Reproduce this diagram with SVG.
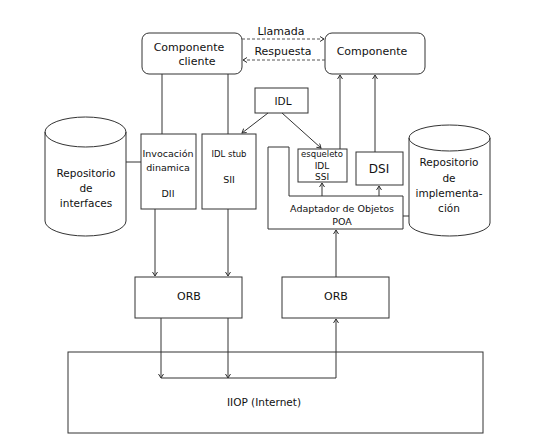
<svg xmlns="http://www.w3.org/2000/svg" width="552" height="445" viewBox="0 0 552 445">
<defs>
<marker id="arr" markerUnits="userSpaceOnUse" markerWidth="8" markerHeight="8" refX="5" refY="3" orient="auto">
<path d="M1,0.5 L5,3 L1,5.5" fill="none" stroke="#333" stroke-width="1"/>
</marker>
<style>
.b{fill:#fff;stroke:#333;stroke-width:1}
.l{fill:none;stroke:#333;stroke-width:1}
.d{fill:none;stroke:#555;stroke-width:1;stroke-dasharray:3,2}
text{font-family:"DejaVu Sans",sans-serif;fill:#111;text-anchor:middle}
.t11{font-size:11px}
.t10{font-size:10.5px}
.t9{font-size:9.5px}
.t8{font-size:9px}
</style>
</defs>
<rect width="552" height="445" fill="#fff"/>
<g id="iiop">
<rect class="b" x="68" y="352" width="415" height="81"/>
<text class="t10" x="264" y="406">IIOP (Internet)</text>
</g>
<g id="comp-cliente">
<rect class="b" x="142" y="33" width="100" height="41" rx="7"/>
<text class="t11" x="189" y="51">Componente</text>
<text class="t11" x="197" y="65">cliente</text>
</g>
<g id="componente">
<rect class="b" x="325" y="33" width="100" height="41" rx="7"/>
<text class="t11" x="372" y="55">Componente</text>
</g>
<g id="idl">
<rect class="b" x="255" y="88" width="53" height="25"/>
<text class="t10" x="283" y="105">IDL</text>
</g>
<g id="repo-interfaces">
<path class="b" d="M45,132 A40.5,15 0 0 1 126,132 L126,221 A40.5,15 0 0 1 45,221 Z"/>
<path class="l" d="M45,132 A40.5,15 0 0 0 126,132"/>
<text class="t10" x="86" y="177">Repositorio</text>
<text class="t10" x="86" y="192">de</text>
<text class="t10" x="86" y="207">interfaces</text>
</g>
<g id="dii">
<rect class="b" x="141" y="134" width="55" height="75"/>
<text class="t9" x="168" y="157">Invocación</text>
<text class="t9" x="168" y="171">dinamica</text>
<text class="t9" x="168" y="197">DII</text>
</g>
<g id="sii">
<rect class="b" x="202" y="134" width="54" height="75"/>
<text class="t9" x="229" y="157" style="font-size:8.5px">IDL stub</text>
<text class="t9" x="229" y="183">SII</text>
</g>
<g id="poa">
<path class="b" d="M268,147 L289,147 L289,196 L403,196 L403,229 L268,229 Z"/>
<text class="t9" x="342" y="212">Adaptador de Objetos</text>
<text class="t9" x="342" y="225">POA</text>
</g>
<g id="esqueleto">
<rect class="b" x="298" y="149" width="49" height="33"/>
<text class="t8" x="322" y="157" style="font-size:8.5px">esqueleto</text>
<text class="t8" x="322" y="169">IDL</text>
<text class="t8" x="322" y="180">SSI</text>
</g>
<g id="dsi">
<rect class="b" x="356" y="152" width="47" height="33"/>
<text x="379" y="173" style="font-size:12px">DSI</text>
</g>
<g id="repo-impl">
<path class="b" d="M409,138 A40.5,13 0 0 1 490,138 L490,223 A40.5,13 0 0 1 409,223 Z"/>
<path class="l" d="M409,138 A40.5,13 0 0 0 490,138"/>
<text class="t10" x="449" y="166">Repositorio</text>
<text class="t10" x="449" y="182">de</text>
<text class="t10" x="449" y="197">implementa-</text>
<text class="t10" x="449" y="212">ción</text>
</g>
<g id="orb-cliente">
<rect class="b" x="135" y="277" width="107" height="41"/>
<text class="t11" x="189" y="300">ORB</text>
</g>
<g id="orb-servidor">
<rect class="b" x="282" y="277" width="107" height="41"/>
<text class="t11" x="336" y="300">ORB</text>
</g>
<g id="connectors">
<line class="d" x1="242" y1="39" x2="324" y2="39" marker-end="url(#arr)"/>
<line class="d" x1="325" y1="60" x2="243" y2="60" marker-end="url(#arr)"/>
<text class="t11" x="281" y="35">Llamada</text>
<text class="t11" x="283" y="55">Respuesta</text>
<line class="l" x1="162" y1="74" x2="162" y2="134"/>
<line class="l" x1="228" y1="74" x2="228" y2="134"/>
<line class="l" x1="268" y1="113" x2="242" y2="133" marker-end="url(#arr)"/>
<line class="l" x1="282" y1="113" x2="321" y2="148" marker-end="url(#arr)"/>
<line class="l" x1="340" y1="149" x2="340" y2="75" marker-end="url(#arr)"/>
<line class="l" x1="375" y1="152" x2="375" y2="75" marker-end="url(#arr)"/>
<line class="l" x1="322" y1="196" x2="322" y2="183" marker-end="url(#arr)"/>
<line class="l" x1="379" y1="196" x2="379" y2="186" marker-end="url(#arr)"/>
<line class="l" x1="126" y1="162" x2="141" y2="162"/>
<line class="l" x1="403" y1="216" x2="409" y2="216"/>
<line class="l" x1="155" y1="209" x2="155" y2="276" marker-end="url(#arr)"/>
<line class="l" x1="228" y1="209" x2="228" y2="276" marker-end="url(#arr)"/>
<line class="l" x1="336" y1="277" x2="336" y2="230" marker-end="url(#arr)"/>
<line class="l" x1="161" y1="318" x2="161" y2="378" marker-end="url(#arr)"/>
<line class="l" x1="228" y1="318" x2="228" y2="378" marker-end="url(#arr)"/>
<line class="l" x1="161" y1="378" x2="336" y2="378"/>
<line class="l" x1="336" y1="378" x2="336" y2="319" marker-end="url(#arr)"/>
</g>
</svg>
